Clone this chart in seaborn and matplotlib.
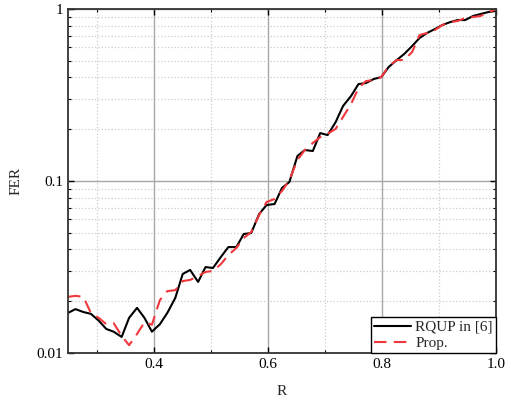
import numpy as np
import pandas as pd
import seaborn as sns
import matplotlib
matplotlib.use("Agg")
import matplotlib.pyplot as plt
from matplotlib.ticker import LogLocator, FixedLocator, NullFormatter

# code rate grid
rate = [0.250, 0.263, 0.277, 0.290, 0.304, 0.317, 0.330, 0.344, 0.357, 0.371,
        0.384, 0.397, 0.411, 0.424, 0.438, 0.451, 0.464, 0.478, 0.491, 0.504,
        0.518, 0.531, 0.545, 0.558, 0.571, 0.585, 0.598, 0.612, 0.625, 0.638,
        0.652, 0.665, 0.679, 0.692, 0.705, 0.719, 0.732, 0.746, 0.759, 0.772,
        0.786, 0.799, 0.812, 0.826, 0.839, 0.853, 0.866, 0.879, 0.893, 0.906,
        0.920, 0.933, 0.946, 0.960, 0.973, 0.987, 1.000]

fer_rqup = [0.0171, 0.0180, 0.0173, 0.0169, 0.0154, 0.0138, 0.0133, 0.0124, 0.0160, 0.0183,
            0.0160, 0.0133, 0.0147, 0.0171, 0.0209, 0.0288, 0.0304, 0.0259, 0.0316, 0.0312,
            0.0362, 0.0413, 0.0413, 0.0492, 0.0498, 0.0643, 0.0725, 0.0735, 0.0911, 0.0987,
            0.1397, 0.1514, 0.1494, 0.190, 0.185, 0.220, 0.273, 0.312, 0.366, 0.371,
            0.392, 0.402, 0.460, 0.505, 0.547, 0.609, 0.678, 0.725, 0.765, 0.807,
            0.840, 0.863, 0.863, 0.911, 0.935, 0.961, 0.974]

fer_prop = [0.0212, 0.0215, 0.0212, 0.0171, 0.0160, 0.0147, 0.0149, 0.0126, 0.0111, 0.0129,
            0.0151, 0.0146, 0.0203, 0.0229, 0.0232, 0.0262, 0.0266, 0.0280, 0.0296, 0.0300,
            0.0329, 0.0371, 0.0408, 0.0466, 0.0505, 0.0634, 0.0755, 0.0786, 0.0875, 0.1013,
            0.1325, 0.1514, 0.1663, 0.180, 0.188, 0.201, 0.236, 0.280, 0.347, 0.381,
            0.387, 0.402, 0.466, 0.505, 0.505, 0.562, 0.706, 0.725, 0.755, 0.807,
            0.840, 0.852, 0.886, 0.898, 0.911, 0.961, 0.995]

labels = ["RQUP in [6]", "Prop."]

df = pd.DataFrame({
    "R": rate * 2,
    "FER": fer_rqup + fer_prop,
    "scheme": [labels[0]] * len(rate) + [labels[1]] * len(rate),
})

sns.set_theme(style="ticks")
plt.rcParams["font.family"] = ["Liberation Serif", "DejaVu Serif"]

fig = plt.figure(figsize=(5.11, 4.08), dpi=100)
ax = fig.add_axes([0.1331, 0.1348, 0.8375, 0.8431])

sns.lineplot(data=df, x="R", y="FER", hue="scheme", style="scheme",
             palette={labels[0]: "black", labels[1]: "#f0383c"},
             dashes={labels[0]: "", labels[1]: (6, 3.5)},
             linewidth=1.5, ax=ax, legend=True)

ax.set_yscale("log")
ax.set_xlim(0.25, 1.0)
ax.set_ylim(0.01, 1)

ax.xaxis.set_major_locator(FixedLocator([0.4, 0.6, 0.8, 1.0]))
ax.xaxis.set_minor_locator(FixedLocator([0.3, 0.5, 0.7, 0.9]))
ax.set_xticklabels(["0.4", "0.6", "0.8", "1.0"])
ax.yaxis.set_major_locator(FixedLocator([0.01, 0.1, 1]))
ax.set_yticklabels(["0.01", "0.1", "1"])
ax.yaxis.set_minor_locator(LogLocator(base=10, subs=np.arange(2, 10)))
ax.yaxis.set_minor_formatter(NullFormatter())

ax.grid(which="major", color="#a8a8a8", linestyle="-", linewidth=1.0)
ax.grid(which="minor", color="#cccccc", linestyle=":", linewidth=0.9)
ax.set_axisbelow(True)

ax.tick_params(which="both", direction="in", top=True, right=True,
               labelsize=11, colors="black")
ax.tick_params(which="major", length=4, width=1.0)
ax.tick_params(which="minor", length=2.5, width=0.8)
for s in ax.spines.values():
    s.set_color("#333333")
    s.set_linewidth(1.3)

ax.set_xlabel("R", fontsize=11, labelpad=10)
ax.set_ylabel("FER", fontsize=11, labelpad=10)

leg = ax.legend(loc="lower right", borderaxespad=0, fontsize=11,
                fancybox=False, framealpha=1, edgecolor="black",
                handlelength=2.4, handletextpad=0.3, borderpad=0.2,
                labelspacing=0.15)
leg.get_frame().set_linewidth(1.0)

fig.savefig("out.png", dpi=100)
